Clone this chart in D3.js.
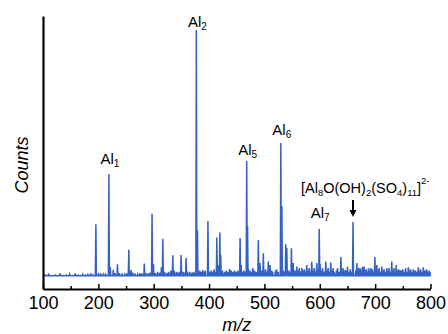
<!DOCTYPE html>
<html>
<head>
<meta charset="utf-8">
<script src="https://cdn.jsdelivr.net/npm/d3@7"></script>
<style>
  html, body { margin: 0; padding: 0; background: #fff; }
  svg { display: block; font-family: Helvetica, "Liberation Sans", Arial, sans-serif; }
</style>
</head>
<body>
<div id="chart"></div>
<script>
// major peaks (m/z, relative counts, Al2 = 100)
const peakMz = [195.5, 219, 221.5, 227, 234.5, 255, 259, 283, 297, 299.5, 314, 316.5, 334.5, 349.5, 358.5,
  377, 379, 388.5, 398, 414, 416, 419.5, 421, 437, 456, 458, 468, 469.5, 471, 479, 489, 492, 498, 507, 510,
  529.6, 531.5, 538.6, 540.4, 548.8, 552, 558.5, 567.5, 576.5, 585.5, 594.6, 599, 600.5, 610.8, 619.8,
  638.2, 645.6, 660, 667, 673, 680, 688, 699.5, 703, 712, 721, 730, 738, 745, 760, 769, 778, 787, 793];
const peakCounts = [21.7, 41.9, 4.4, 3.3, 5.5, 11.4, 3.2, 5.8, 25.9, 5.6, 4.4, 15.8, 9.2, 9.3, 8.1,
  100, 19.2, 3.2, 23, 16.3, 5, 18.3, 9.3, 3.6, 16.1, 5.2, 47.2, 21, 3.6, 4, 15.3, 6, 10, 6.6, 5.2,
  54.4, 29, 13.6, 12.1, 12, 6, 4.6, 4, 5.2, 6.5, 6, 19.8, 5.6, 6.6, 6.2,
  8.5, 3.2, 22.6, 6, 3.9, 4.6, 3.9, 8.5, 5.2, 4.6, 3.9, 6.6, 5.2, 3.2, 4.3, 3.5, 4.3, 4.3, 3.5];

// small background spikes
const noiseMz = [104, 110, 116, 122, 127, 131, 137, 142, 148, 153, 158, 163, 168, 172, 177, 181, 186, 190,
  200, 204, 209, 213, 230, 238, 243, 248, 252, 262, 266, 271, 275, 279, 287, 291, 294, 303, 307, 311, 320,
  324, 327, 331, 337, 341, 344, 347, 353, 356, 361, 365, 369, 372, 375, 383, 386, 391, 393, 401, 404, 406,
  409, 411, 424, 428, 431, 434, 440, 443, 446, 449, 452, 461, 463, 466, 474, 476, 482, 485, 495, 500, 502,
  505, 513, 515, 520, 522, 525, 534, 536, 544, 546, 555, 561, 563, 565, 570, 572, 574, 579, 581, 583, 588,
  590, 592, 597, 603, 605, 608, 613, 615, 617, 622, 624, 626, 630, 632, 635, 640, 642, 648, 650, 652, 655,
  657, 665, 670, 675, 677, 682, 684, 686, 690, 692, 695, 697, 705, 707, 709, 714, 716, 718, 723, 725, 727,
  732, 734, 736, 740, 742, 748, 750, 753, 755, 757, 762, 764, 766, 771, 773, 775, 780, 782, 784, 789, 791,
  795, 797, 799];
const noiseCounts = [1.2, 1.8, 1, 1.2, 1, 1.8, 1, 1.2, 1.6, 1, 1.8, 1.2, 1, 1.5, 1.2, 1.4, 1.8, 1.3,
  1.5, 2, 1.5, 1.8, 2, 2, 1.8, 1.5, 2, 2.2, 1.8, 1.5, 2, 1.8, 2, 1.8, 2.2, 2, 2.5, 2.2, 2.5,
  2, 2.5, 3, 3, 2.5, 2.2, 2.5, 2.5, 2.2, 2.5, 2.5, 2.2, 2.5, 2, 3, 2.5, 2.5, 3, 2.5, 3, 2.5,
  3.5, 2.5, 3, 2.5, 3, 2.5, 3, 2.5, 3, 2.5, 3, 2.5, 3, 2.5, 3, 2.5, 3, 2.5, 3, 2.5, 3.5,
  2.5, 3, 2.5, 3, 3.5, 2.5, 3, 2.5, 3, 2.5, 3, 3, 4, 2.5, 3, 3.5, 2.5, 3, 4, 2.5, 3,
  4, 2.5, 3, 3, 4, 2.5, 3, 4, 2.5, 3, 4, 2.5, 3, 4, 2.5, 3, 4, 3, 4.5, 2.5, 3.5,
  2.5, 3, 4, 3, 4.5, 3, 3.5, 2.5, 3, 4, 3.5, 2.5, 3, 4, 2.5, 3, 3.5, 2.5, 3, 4, 2.5,
  3, 4, 2.5, 3, 3.5, 3, 3.5, 2.5, 4, 2.5, 3, 3.5, 2.5, 3, 3, 2.5, 3, 3.5, 2.5, 3, 3,
  2.5, 3, 2.5];
const baseCounts = 0.9;

const xTicks = [100, 200, 300, 400, 500, 600, 700, 800];
const xMinorTicks = [150, 250, 350, 450, 550, 650, 750];

const labelNames = ['1', '2', '5', '6', '7'];
const labelMz = [219, 377, 468, 529.6, 599];
const labelCounts = [41.9, 100, 47.2, 54.4, 19.8];
const labelGap = [10, 3.5, 6, 8, 11];
const arrowMz = 660;
const arrowCounts = 22.6;

const W = 448, H = 334;
const svg = d3.select('#chart').append('svg').attr('width', W).attr('height', H);

const x = d3.scaleLinear().domain([100, 800]).range([43, 430.5]);
const y = d3.scaleLinear().domain([-4.44, 105.65]).range([289, 16]);

const blue = '#3462c4';
const half = 0.9;

// spectrum path
const spikes = peakMz.map((m, i) => [m, peakCounts[i]])
  .concat(noiseMz.map((m, i) => [m, noiseCounts[i]]))
  .sort((a, b) => a[0] - b[0]);
const pts = [[100, baseCounts]];
spikes.forEach(s => {
  pts.push([s[0] - half, baseCounts], [s[0], s[1]], [s[0] + half, baseCounts]);
});
pts.push([800, baseCounts]);

const line = d3.line().x(d => x(d[0])).y(d => y(d[1]));
svg.append('path')
  .datum(pts)
  .attr('d', line)
  .attr('fill', 'none')
  .attr('stroke', blue)
  .attr('stroke-width', 1.5)
  .attr('stroke-linejoin', 'miter');

// axes
const xAxis = svg.append('g')
  .attr('transform', `translate(0,${y(-4.44)})`)
  .call(d3.axisBottom(x).tickValues(xTicks).tickSize(-5).tickSizeOuter(0).tickPadding(7));
xAxis.select('.domain').attr('stroke-width', 2.2);
xAxis.selectAll('.tick line').attr('stroke-width', 1.5);
xAxis.selectAll('.tick text').attr('font-size', '18px').attr('font-family', null).attr('fill', '#000');

const xMinor = svg.append('g')
  .attr('transform', `translate(0,${y(-4.44)})`)
  .call(d3.axisBottom(x).tickValues(xMinorTicks).tickSize(-3).tickFormat(''));
xMinor.select('.domain').remove();
xMinor.selectAll('.tick line').attr('stroke-width', 1.5);

const yAxis = svg.append('g')
  .attr('transform', `translate(${x(100)},0)`)
  .call(d3.axisLeft(y).tickValues([]).tickSizeOuter(0));
yAxis.select('.domain').attr('stroke-width', 2.2);

// axis titles
svg.append('text')
  .attr('transform', 'translate(28,165) rotate(-90)')
  .attr('text-anchor', 'middle')
  .attr('font-size', '18px')
  .attr('font-style', 'italic')
  .text('Counts');

svg.append('text')
  .attr('x', (x(100) + x(800)) / 2)
  .attr('y', 331)
  .attr('text-anchor', 'middle')
  .attr('font-size', '18px')
  .attr('font-style', 'italic')
  .text('m/z');

// peak labels
labelNames.forEach((n, i) => {
  const t = svg.append('text')
    .attr('x', x(labelMz[i]) + 1)
    .attr('y', y(labelCounts[i]) - labelGap[i])
    .attr('text-anchor', 'middle')
    .attr('font-size', '15px');
  t.append('tspan').text('Al');
  t.append('tspan').attr('font-size', '10px').attr('dy', 3).text(n);
});

// cluster label
const big = svg.append('text')
  .attr('x', 301)
  .attr('y', 193)
  .attr('font-size', '14.5px');
const parts = [
  ['[Al', 0], ['8', 1], ['O(OH)', 0], ['2', 1], ['(SO', 0], ['4', 1], [')', 0], ['11', 1], [']', 0], ['2-', 2]
];
let cur = 0;
parts.forEach(p => {
  const target = p[1] === 1 ? 3 : (p[1] === 2 ? -9 : 0);
  big.append('tspan')
    .attr('dy', target - cur)
    .attr('font-size', p[1] ? '9.5px' : null)
    .text(p[0]);
  cur = target;
});

// arrow
const ax = x(arrowMz);
const tipY = y(arrowCounts) - 5;
svg.append('line')
  .attr('x1', ax).attr('x2', ax)
  .attr('y1', 200).attr('y2', tipY - 5)
  .attr('stroke', '#000').attr('stroke-width', 2);
svg.append('path')
  .attr('d', `M${ax - 3.5},${tipY - 7}L${ax + 3.5},${tipY - 7}L${ax},${tipY}Z`)
  .attr('fill', '#000');
</script>
</body>
</html>
